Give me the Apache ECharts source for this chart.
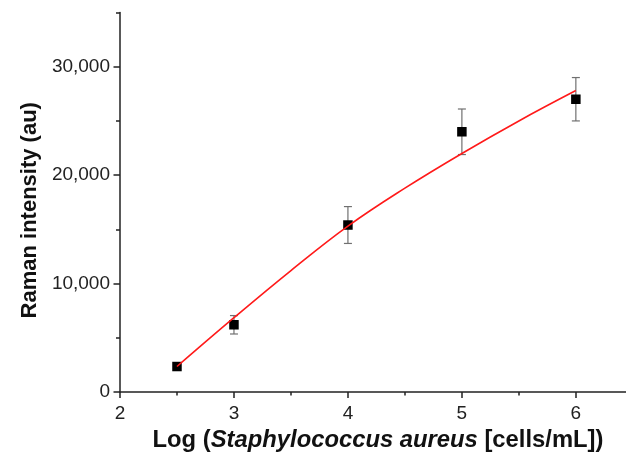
<!DOCTYPE html>
<html>
<head>
<meta charset="utf-8">
<script src="https://cdn.jsdelivr.net/npm/echarts@6/dist/echarts.min.js"></script>
<style>
html,body{margin:0;padding:0;background:#fff;}
#chart{width:626px;height:457px;}
</style>
</head>
<body>
<div id="chart"></div>
<script>
// Measured data (log concentration vs Raman intensity)
var logConc = [2.5, 3, 4, 5, 6];
var meanIntensity = [2350, 6200, 15400, 24000, 27000];
var errIntensity = [150, 850, 1700, 2100, 2000];

// Fitted curve
var fitX = [2.5, 3, 3.5, 4, 4.5, 5, 5.5, 6];
var fitY = [2350, 6850, 11200, 15300, 18800, 22000, 25000, 27800];

// Tick values
var xMajorTicks = [2, 3, 4, 5, 6];
var xMinorTicks = [2.5, 3.5, 4.5, 5.5];
var yMajorTicks = [0, 10000, 20000, 30000];
var yMinorTicks = [5000, 15000, 25000, 35000];

var chart = echarts.init(document.getElementById('chart'), null, {renderer: 'canvas'});

var pts = logConc.map(function (x, i) { return [x, meanIntensity[i]]; });
var errData = logConc.map(function (x, i) {
  return [x, meanIntensity[i] - errIntensity[i], meanIntensity[i] + errIntensity[i]];
});
var fitData = fitX.map(function (x, i) { return [x, fitY[i]]; });

var axisColor = '#222';
var font = 'Arial, "Liberation Sans", Helvetica, sans-serif';

var option = {
  backgroundColor: '#fff',
  animation: false,
  grid: {left: 120, right: 0, top: 12.5, bottom: 63, containLabel: false},
  xAxis: [{
    type: 'value', min: 2, max: 6.44, interval: 1, position: 'bottom',
    splitLine: {show: false},
    axisLine: {show: true, onZero: false, lineStyle: {color: axisColor, width: 1.5}},
    axisTick: {show: true, inside: false, length: 6, customValues: xMajorTicks, lineStyle: {color: axisColor, width: 1.5}},
    axisLabel: {show: true, margin: 12, customValues: xMajorTicks, color: '#222', fontSize: 19, fontFamily: font},
    name: '{b|Log (}{bi|Staphylococcus aureus}{b| [cells/mL])}',
    nameLocation: 'middle', nameGap: 36,
    nameTextStyle: {
      padding: [0, 0, 0, 10],
      rich: {
        b: {fontSize: 23.8, fontWeight: 'bold', color: '#111', fontFamily: font},
        bi: {fontSize: 23.8, fontWeight: 'bold', fontStyle: 'italic', color: '#111', fontFamily: font}
      }
    }
  }, {
    type: 'value', min: 2, max: 6.44, interval: 1, position: 'bottom',
    splitLine: {show: false},
    axisLine: {show: false},
    axisTick: {show: true, inside: false, length: 3.5, customValues: xMinorTicks, lineStyle: {color: axisColor, width: 1.5}},
    axisLabel: {show: false}
  }],
  yAxis: [{
    type: 'value', min: 0, max: 35000, interval: 10000, position: 'left',
    splitLine: {show: false},
    axisLine: {show: true, onZero: false, lineStyle: {color: axisColor, width: 1.5}},
    axisTick: {show: true, inside: false, length: 6.5, customValues: yMajorTicks, lineStyle: {color: axisColor, width: 1.5}},
    axisLabel: {
      show: true, margin: 10, customValues: yMajorTicks, color: '#222', fontSize: 19, fontFamily: font,
      formatter: function (v) { return v.toLocaleString('en-US'); }
    },
    name: 'Raman intensity (au)',
    nameLocation: 'middle', nameGap: 77, nameRotate: 90,
    nameTextStyle: {fontSize: 22, fontWeight: 'bold', color: '#111', fontFamily: font, padding: [0, 16, 0, 0]}
  }, {
    type: 'value', min: 0, max: 35000, interval: 10000, position: 'left',
    splitLine: {show: false},
    axisLine: {show: false},
    axisTick: {show: true, inside: false, length: 4, customValues: yMinorTicks, lineStyle: {color: axisColor, width: 1.5}},
    axisLabel: {show: false}
  }],
  series: [{
    type: 'custom',
    xAxisIndex: 0, yAxisIndex: 0,
    data: errData,
    z: 2,
    renderItem: function (params, api) {
      var x = api.value(0);
      var lo = api.coord([x, api.value(1)]);
      var hi = api.coord([x, api.value(2)]);
      var hw = 4;
      var style = {stroke: '#707070', lineWidth: 1.2};
      return {
        type: 'group',
        children: [
          {type: 'line', shape: {x1: lo[0], y1: lo[1], x2: hi[0], y2: hi[1]}, style: style},
          {type: 'line', shape: {x1: lo[0] - hw, y1: lo[1], x2: lo[0] + hw, y2: lo[1]}, style: style},
          {type: 'line', shape: {x1: hi[0] - hw, y1: hi[1], x2: hi[0] + hw, y2: hi[1]}, style: style}
        ]
      };
    }
  }, {
    type: 'scatter',
    xAxisIndex: 0, yAxisIndex: 0,
    data: pts,
    symbol: 'rect', symbolSize: 9.5,
    itemStyle: {color: '#000', opacity: 1},
    z: 3
  }, {
    type: 'line',
    xAxisIndex: 0, yAxisIndex: 0,
    data: fitData,
    smooth: 0.4,
    showSymbol: false,
    lineStyle: {color: '#ff1a1a', width: 1.6},
    z: 4
  }]
};
chart.setOption(option);
</script>
</body>
</html>
